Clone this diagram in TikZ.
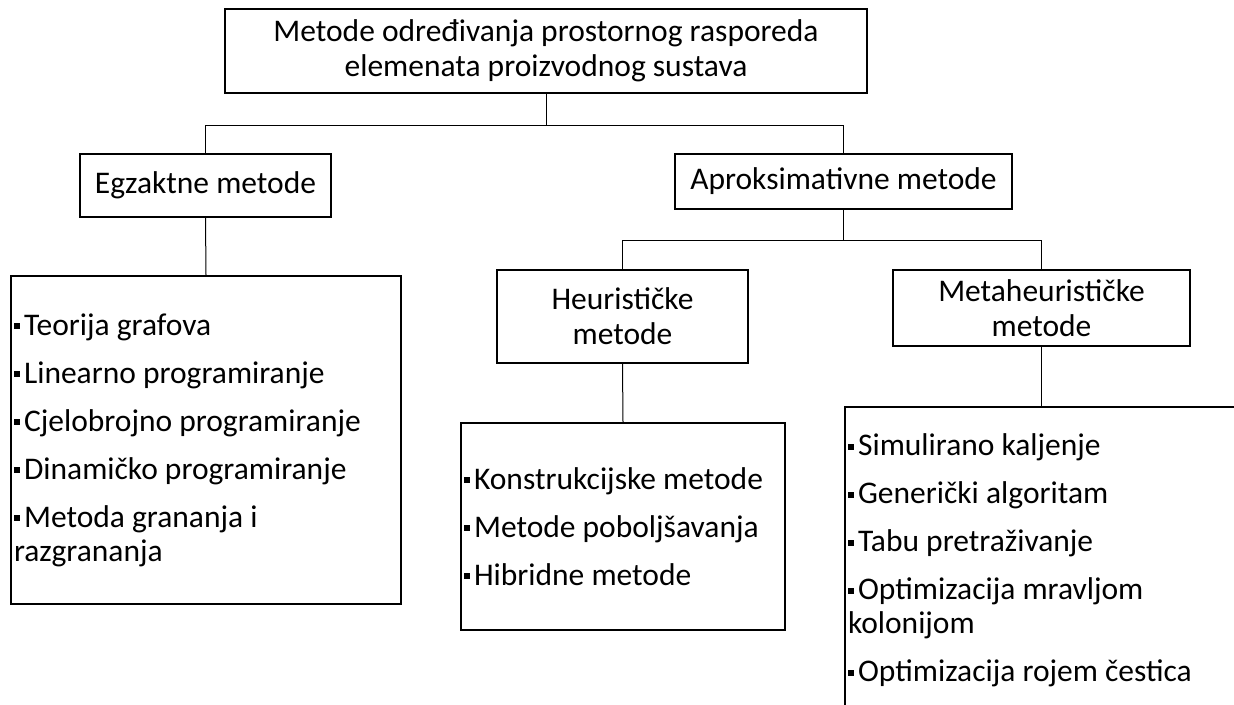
\documentclass[tikz,border=0pt]{standalone}
\usepackage{fontspec}
\setmainfont{Carlito}
\usepackage{tikz}
\usetikzlibrary{positioning,calc}

\newcommand{\sqbul}{\rule[0.19em]{0.19em}{0.19em}\hspace{0.13em}}

\begin{document}
\begin{tikzpicture}[x=1pt,y=-1pt,
  box/.style={draw,line width=2pt,align=center,inner sep=0pt,
    font=\fontsize{31.5}{35}\selectfont},
  lst/.style={draw,line width=2pt,align=flush left,inner xsep=3pt,inner ysep=0pt,
    font=\fontsize{31.5}{34}\selectfont},
  conn/.style={line width=1pt}]
\useasboundingbox (0,0) rectangle (1234,704);
\clip (0,0) rectangle (1234,704);
% top level
\node[box,minimum width=642pt,minimum height=84pt] (top) at (546,51)
  {Metode određivanja prostornog rasporeda\\elemenata proizvodnog sustava};
\node[box,minimum width=251pt,minimum height=63pt] (egz) at (205.5,185.5) {Egzaktne metode};
\node[box,minimum width=337pt,minimum height=55pt] (apr) at (843.5,181.5) {Aproksimativne metode};
\node[box,minimum width=251pt,minimum height=93pt] (heur) at (622.5,316.5) {Heurističke\\metode};
\node[box,minimum width=297pt,minimum height=76pt] (meta) at (1041.5,308) {Metaheurističke\\metode};
% lists
\node[lst,text width=384pt,minimum height=328pt] (egzlist) at (206,440)
  {\sqbul Teorija grafova\\[14pt]
   \sqbul Linearno programiranje\\[14pt]
   \sqbul Cjelobrojno programiranje\\[14pt]
   \sqbul Dinamičko programiranje\\[14pt]
   \sqbul Metoda grananja i\\
   razgrananja};
\node[lst,text width=318pt,minimum height=207pt] (heurlist) at (623,526.5)
  {\sqbul Konstrukcijske metode\\[14pt]
   \sqbul Metode poboljšavanja\\[14pt]
   \sqbul Hibridne metode};
\node[lst,text width=414pt,minimum height=307pt] (metalist) at (1055,560.5)
  {\sqbul Simulirano kaljenje\\[14pt]
   \sqbul Generički algoritam\\[14pt]
   \sqbul Tabu pretraživanje\\[14pt]
   \sqbul Optimizacija mravljom\\
   kolonijom\\[14pt]
   \sqbul Optimizacija rojem čestica};
% connectors
\draw[conn] (top.south) -- ++(0,31) -| (egz.north);
\draw[conn] (top.south) -- ++(0,31) -| (apr.north);
\draw[conn] (egz.south) -- (egzlist.north);
\draw[conn] (apr.south) -- ++(0,30) -| (heur.north);
\draw[conn] (apr.south) -- ++(0,30) -| (meta.north);
\draw[conn] (heur.south) -- (heurlist.north);
\draw[conn] (meta.south) -- (meta.south |- metalist.north);
\end{tikzpicture}
\end{document}
